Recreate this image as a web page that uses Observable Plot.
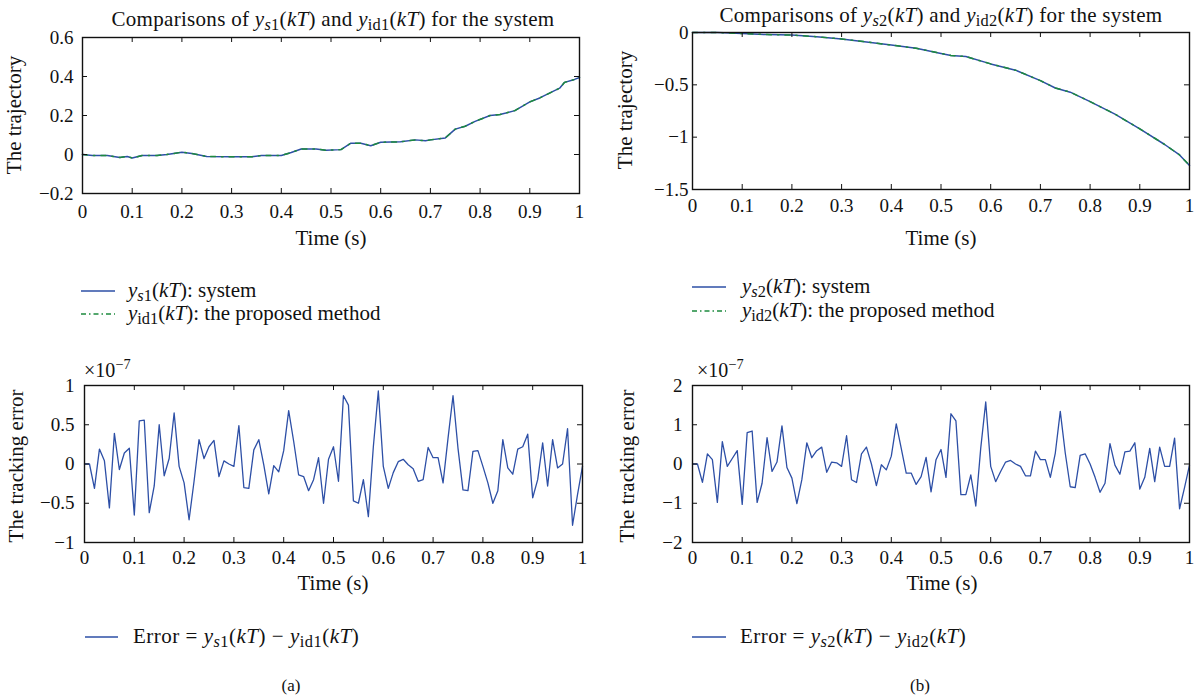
<!DOCTYPE html>
<html><head><meta charset="utf-8">
<script src="https://cdn.jsdelivr.net/npm/d3@7"></script>
<script src="https://cdn.jsdelivr.net/npm/@observablehq/plot@0.6"></script>
<style>
body{margin:0;background:#fff;}
#root{position:relative;width:1195px;height:695px;font-family:"Liberation Serif","DejaVu Serif",serif;color:#111;overflow:hidden;}
.abs{position:absolute;white-space:nowrap;line-height:1;}
.pl{position:absolute;}
i{font-style:italic;}
sub{font-size:78%;vertical-align:-0.25em;line-height:0;}
sup{font-size:72%;vertical-align:0.55em;line-height:0;}
</style>
</head><body><div id="root"></div>
<script>
// ---------- data ----------
const tA = [0,0.02,0.05,0.075,0.09,0.1,0.12,0.15,0.17,0.2,0.22,0.25,0.3,0.34,0.36,0.4,0.42,0.44,0.47,0.49,0.52,0.54,0.56,0.58,0.6,0.64,0.67,0.69,0.7,0.73,0.75,0.77,0.79,0.82,0.84,0.87,0.9,0.92,0.96,0.97,0.99,1.0];
const ysA = [0,-0.005,-0.005,-0.015,-0.01,-0.018,-0.005,-0.005,0,0.012,0.005,-0.01,-0.012,-0.012,-0.005,-0.005,0.01,0.028,0.028,0.022,0.025,0.058,0.058,0.045,0.063,0.065,0.075,0.07,0.075,0.085,0.13,0.145,0.17,0.2,0.205,0.225,0.27,0.29,0.34,0.37,0.385,0.395];
const tB = [0,0.05,0.1,0.15,0.2,0.25,0.3,0.35,0.4,0.45,0.5,0.52,0.55,0.6,0.65,0.7,0.73,0.76,0.8,0.85,0.9,0.95,0.98,1.0];
const ysB = [0,0,-0.01,-0.02,-0.025,-0.04,-0.062,-0.09,-0.12,-0.15,-0.2,-0.22,-0.23,-0.3,-0.36,-0.46,-0.53,-0.57,-0.66,-0.78,-0.92,-1.07,-1.17,-1.27];
// tracking errors (units of 1e-7), k = 0..100, t = k*0.01
const errA = [0,0,-0.31,0.19,0.04,-0.56,0.39,-0.07,0.14,0.2,-0.65,0.55,0.56,-0.62,-0.28,0.5,-0.15,0.07,0.65,-0.03,-0.24,-0.71,-0.22,0.31,0.07,0.22,0.3,-0.16,0.04,0,-0.03,0.49,-0.3,-0.31,0.18,0.31,-0.01,-0.38,-0.02,-0.1,0.17,0.68,0.29,-0.14,-0.16,-0.34,-0.2,0.08,-0.5,0.06,0.22,-0.22,0.87,0.75,-0.47,-0.5,-0.2,-0.67,0.22,0.93,-0.03,-0.31,-0.11,0.03,0.06,-0.01,-0.06,-0.22,-0.2,0.21,0.08,0.08,-0.24,0.33,0.87,0.2,-0.33,-0.34,0.16,0.17,-0.03,-0.24,-0.5,-0.34,0.31,-0.05,-0.13,0.19,0.22,0.38,-0.43,-0.2,0.27,-0.28,0.31,-0.05,0,0.45,-0.78,-0.39,-0.03];
const errB = [0,0,-0.47,0.26,0.11,-0.98,0.57,-0.06,0.14,0.34,-1.03,0.8,0.84,-0.98,-0.49,0.67,-0.19,0.05,0.97,-0.09,-0.36,-1.01,-0.4,0.54,0.16,0.34,0.43,-0.21,0.05,0.03,-0.06,0.72,-0.4,-0.47,0.26,0.43,0,-0.55,-0.02,-0.15,0.2,1.02,0.4,-0.23,-0.23,-0.52,-0.32,0.17,-0.71,0.11,0.37,-0.34,1.28,1.1,-0.78,-0.78,-0.28,-1.07,0.41,1.58,-0.06,-0.45,-0.19,0.05,0.09,0,-0.06,-0.3,-0.3,0.33,0.11,0.11,-0.34,0.28,1.34,0.28,-0.58,-0.6,0.22,0.26,0,-0.34,-0.72,-0.49,0.52,-0.03,-0.26,0.31,0.33,0.54,-0.64,-0.34,0.4,-0.45,0.43,-0.06,-0.06,0.66,-1.14,-0.6,-0.03];
const xTicks = [0,0.1,0.2,0.3,0.4,0.5,0.6,0.7,0.8,0.9,1];
const yTicksA = [-0.2,0,0.2,0.4,0.6];
const yTicksB = [-1.5,-1,-0.5,0];
const yTicksEA = [-1,-0.5,0,0.5,1];
const yTicksEB = [-2,-1,0,1,2];

// ---------- helpers ----------
const BLUE = "#2d4fa6", GREEN = "#1d8a3e", FONT = "Liberation Serif, DejaVu Serif, serif";
const fmt = d => String(d).replace("-", "\u2212");
const root = document.getElementById("root");

function panel({lines, yDomain, yTicks, width, height, ml, mr, mt, mb, xPad, yPad, left, top}) {
  const fh = height - mt - mb, fw = width - ml - mr;
  const svg = Plot.plot({
    width, height, marginLeft: ml, marginRight: mr, marginTop: mt, marginBottom: mb,
    style: {fontFamily: FONT, fontSize: "19px", color: "#111", background: "transparent", overflow: "visible"},
    x: {domain: [0, 1]},
    y: {domain: yDomain},
    marks: [
      ...lines,
      Plot.frame({stroke: "#111", strokeWidth: 1.4}),
      Plot.tickX(xTicks, {x: d => d, insetTop: fh - 5, stroke: "#111", strokeWidth: 1}),
      Plot.tickX(xTicks, {x: d => d, insetBottom: fh - 5, stroke: "#111", strokeWidth: 1}),
      Plot.tickY(yTicks, {y: d => d, insetRight: fw - 5, stroke: "#111", strokeWidth: 1}),
      Plot.tickY(yTicks, {y: d => d, insetLeft: fw - 5, stroke: "#111", strokeWidth: 1}),
      Plot.axisX(xTicks, {tickSize: 0, tickPadding: xPad, tickFormat: fmt, label: null, fontSize: 19}),
      Plot.axisY(yTicks, {tickSize: 0, tickPadding: yPad, tickFormat: fmt, label: null, fontSize: 19})
    ]
  });
  svg.classList.add("pl");
  svg.style.left = left + "px";
  svg.style.top = top + "px";
  root.appendChild(svg);
}

function text(html, cx, cy, {size = 20, rotate = 0, anchor = "center", spacing = 0, lh = 1} = {}) {
  const d = document.createElement("div");
  d.className = "abs";
  d.style.fontSize = size + "px";
  d.style.lineHeight = lh;
  if (spacing) d.style.letterSpacing = spacing + "px";
  d.innerHTML = html;
  d.style.left = cx + "px";
  d.style.top = cy + "px";
  const tx = anchor === "center" ? "-50%" : "0";
  d.style.transform = `translate(${tx},-50%)`;
  if (rotate) { d.style.transform = `translate(-50%,-50%) rotate(${rotate}deg)`; }
  root.appendChild(d);
}

function swatch(x1, x2, y, color, dash) {
  const s = document.createElementNS("http://www.w3.org/2000/svg", "svg");
  s.setAttribute("width", x2 - x1); s.setAttribute("height", 4);
  s.style.position = "absolute"; s.style.left = x1 + "px"; s.style.top = (y - 2) + "px";
  const l = document.createElementNS("http://www.w3.org/2000/svg", "line");
  l.setAttribute("x1", 0); l.setAttribute("x2", x2 - x1); l.setAttribute("y1", 2); l.setAttribute("y2", 2);
  l.setAttribute("stroke", color); l.setAttribute("stroke-width", 1.6);
  if (dash) l.setAttribute("stroke-dasharray", dash);
  s.appendChild(l); root.appendChild(s);
}

const trajA = tA.map((t, i) => ({t, v: ysA[i]}));
const trajB = tB.map((t, i) => ({t, v: ysB[i]}));
const eA = errA.map((v, k) => ({t: k / 100, v}));
const eB = errB.map((v, k) => ({t: k / 100, v}));
const DASH = "5,6,1.5,6";

// ---------- panels ----------
panel({
  lines: [
    Plot.line(trajA, {x: "t", y: "v", stroke: BLUE, strokeWidth: 1.5}),
    Plot.line(trajA, {x: "t", y: "v", stroke: GREEN, strokeWidth: 1.5, strokeDasharray: DASH})
  ],
  yDomain: [-0.2, 0.6], yTicks: yTicksA, width: 600, height: 250, ml: 82, mr: 21, mt: 37, mb: 57,
  xPad: 11, yPad: 9, left: 0, top: 0
});
panel({
  lines: [
    Plot.line(trajB, {x: "t", y: "v", stroke: BLUE, strokeWidth: 1.5}),
    Plot.line(trajB, {x: "t", y: "v", stroke: GREEN, strokeWidth: 1.5, strokeDasharray: DASH})
  ],
  yDomain: [-1.5, 0], yTicks: yTicksB, width: 595, height: 250, ml: 92, mr: 6, mt: 32, mb: 61,
  xPad: 9, yPad: 4, left: 600, top: 0
});
panel({
  lines: [Plot.line(eA, {x: "t", y: "v", stroke: BLUE, strokeWidth: 1.3})],
  yDomain: [-1, 1], yTicks: yTicksEA, width: 600, height: 240, ml: 84, mr: 18, mt: 25, mb: 58,
  xPad: 8, yPad: 10, left: 0, top: 360
});
panel({
  lines: [Plot.line(eB, {x: "t", y: "v", stroke: BLUE, strokeWidth: 1.3})],
  yDomain: [-2, 2], yTicks: yTicksEB, width: 595, height: 240, ml: 92, mr: 6, mt: 25, mb: 58,
  xPad: 8, yPad: 10, left: 600, top: 360
});

// ---------- texts ----------
text('Comparisons of <i>y</i><sub><i>s</i>1</sub>(<i>kT</i>) and <i>y</i><sub>id1</sub>(<i>kT</i>) for the system', 333, 19, {size: 21, spacing: 0.3});
text('Comparisons of <i>y</i><sub><i>s</i>2</sub>(<i>kT</i>) and <i>y</i><sub>id2</sub>(<i>kT</i>) for the system', 941, 15, {size: 21, spacing: 0.3});
text('The trajectory', 14, 115, {rotate: -90, size: 21});
text('The trajectory', 625, 110, {rotate: -90, size: 21});
text('The tracking error', 16, 466, {rotate: -90, size: 21});
text('The tracking error', 627, 466, {rotate: -90, size: 21});
text('Time (s)', 331, 238, {size: 21});
text('Time (s)', 941, 238, {size: 21});
text('Time (s)', 333, 583, {size: 21});
text('Time (s)', 942, 583, {size: 21});
text('\u00d710<sup>\u22127</sup>', 84, 370, {anchor: "left", size: 20});
text('\u00d710<sup>\u22127</sup>', 697, 370, {anchor: "left", size: 20});

// legends (each legend block is one two-line text)
swatch(81, 115, 291, BLUE);
swatch(81, 115, 314, GREEN, "5,3,1.5,3");
text('<i>y</i><sub><i>s</i>1</sub>(<i>kT</i>): system<br><i>y</i><sub>id1</sub>(<i>kT</i>): the proposed method', 128, 302, {anchor: "left", size: 21, lh: "23px"});
swatch(692, 726, 287, BLUE);
swatch(692, 726, 311, GREEN, "5,3,1.5,3");
text('<i>y</i><sub><i>s</i>2</sub>(<i>kT</i>): system<br><i>y</i><sub>id2</sub>(<i>kT</i>): the proposed method', 742, 298, {anchor: "left", size: 21, lh: "24px"});
swatch(85, 118, 637, BLUE);
text('Error = <i>y</i><sub><i>s</i>1</sub>(<i>kT</i>) \u2212 <i>y</i><sub>id1</sub>(<i>kT</i>)', 133, 636, {anchor: "left", size: 21, spacing: 0.5});
swatch(692, 726, 637, BLUE);
text('Error = <i>y</i><sub><i>s</i>2</sub>(<i>kT</i>) \u2212 <i>y</i><sub>id2</sub>(<i>kT</i>)', 740, 636, {anchor: "left", size: 21, spacing: 0.5});
text('(a)', 291, 685, {size: 17});
text('(b)', 920, 685, {size: 17});
</script>
</body></html>
